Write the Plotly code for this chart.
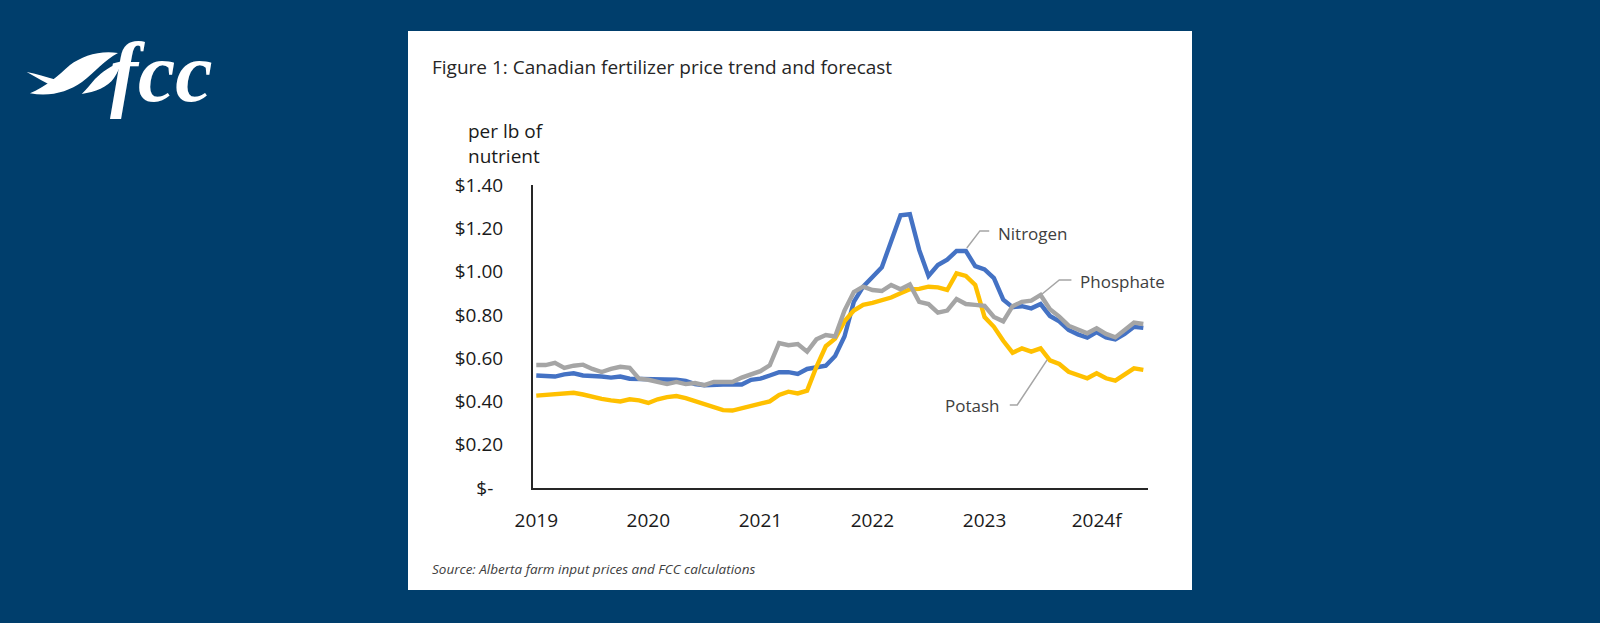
import plotly.graph_objects as go

# ---------------- data (monthly, Jan 2019 .. Jun 2024) ----------------
nitrogen = [0.52, 0.52, 0.515, 0.525, 0.53, 0.52, 0.52, 0.515, 0.51, 0.515, 0.505, 0.505,
            0.505, 0.505, 0.50, 0.50, 0.495, 0.48, 0.475, 0.478, 0.478, 0.478, 0.478, 0.50,
            0.505, 0.52, 0.535, 0.535, 0.527, 0.55, 0.56, 0.565, 0.61, 0.70, 0.86, 0.93,
            0.975, 1.02, 1.14, 1.26, 1.265, 1.10, 0.98, 1.03, 1.055, 1.095, 1.095, 1.025,
            1.01, 0.97, 0.87, 0.835, 0.84, 0.83, 0.85, 0.795, 0.77, 0.73, 0.71, 0.695,
            0.72, 0.696, 0.687, 0.712, 0.745, 0.74]
phosphate = [0.568, 0.568, 0.578, 0.555, 0.565, 0.57, 0.55, 0.536, 0.55, 0.56, 0.555, 0.505,
             0.50, 0.49, 0.48, 0.49, 0.48, 0.485, 0.475, 0.49, 0.49, 0.49, 0.51, 0.525,
             0.54, 0.567, 0.67, 0.66, 0.665, 0.63, 0.687, 0.707, 0.70, 0.82, 0.905, 0.93,
             0.915, 0.91, 0.938, 0.918, 0.94, 0.86, 0.85, 0.81, 0.82, 0.873, 0.85, 0.846,
             0.842, 0.79, 0.77, 0.84, 0.86, 0.866, 0.892, 0.826, 0.792, 0.75, 0.73, 0.715,
             0.738, 0.712, 0.696, 0.73, 0.764, 0.758]
potash = [0.427, 0.43, 0.432, 0.435, 0.44, 0.432, 0.42, 0.412, 0.405, 0.40, 0.41, 0.405,
          0.393, 0.41, 0.42, 0.425, 0.415, 0.40, 0.388, 0.37, 0.36, 0.358, 0.368, 0.378,
          0.385, 0.40, 0.43, 0.445, 0.437, 0.45, 0.56, 0.655, 0.69, 0.77, 0.82, 0.846,
          0.855, 0.865, 0.88, 0.90, 0.918, 0.92, 0.93, 0.927, 0.915, 0.992, 0.98, 0.938,
          0.79, 0.745, 0.68, 0.625, 0.645, 0.63, 0.645, 0.59, 0.573, 0.537, 0.522, 0.507,
          0.53, 0.507, 0.496, 0.522, 0.553, 0.546]
month_index = list(range(len(nitrogen)))

year_ticks = [0, 12, 24, 36, 48, 60]
year_labels = ["2019", "2020", "2021", "2022", "2023", "2024f"]
y_ticks = [0, 0.2, 0.4, 0.6, 0.8, 1.0, 1.2, 1.4]
y_labels = ["$-\u00a0\u00a0", "$0.20", "$0.40", "$0.60", "$0.80", "$1.00", "$1.20", "$1.40"]

series_names = ["Nitrogen", "Potash", "Phosphate"]
series_values = [nitrogen, potash, phosphate]
series_colors = ["#4472C4", "#FFC000", "#A5A5A5"]

# ---------------- layout helpers ----------------
W, H = 1600, 623
L, R, T, B = 533, 1148, 185, 488
NAVY = "#003e6c"
FONT = "Open Sans"


def pxx(x):
    return (x - L) / (R - L)


def pxy(y):
    return (B - y) / (B - T)


fig = go.Figure()
for name, vals, col in zip(series_names, series_values, series_colors):
    fig.add_trace(go.Scatter(x=month_index, y=vals, mode="lines", name=name,
                             line=dict(color=col, width=4.4), showlegend=False,
                             hoverinfo="skip"))

shapes = []
# white panel
shapes.append(dict(type="rect", xref="paper", yref="paper", layer="below",
                   x0=pxx(408), x1=pxx(1192), y0=pxy(590), y1=pxy(31),
                   fillcolor="white", line=dict(width=0)))

# leader lines (data coordinates)
leader_col = "#A5A5A5"
shapes.append(dict(type="path", xref="x", yref="y",
                   path="M 46.1,1.109 L 47.5,1.188 L 48.5,1.188",
                   line=dict(color=leader_col, width=1.5)))
shapes.append(dict(type="path", xref="x", yref="y",
                   path="M 53.9,0.887 L 56.0,0.961 L 57.3,0.961",
                   line=dict(color=leader_col, width=1.5)))
shapes.append(dict(type="path", xref="x", yref="y",
                   path="M 54.7,0.592 L 51.5,0.384 L 50.7,0.384",
                   line=dict(color=leader_col, width=1.5)))


# logo wings (pixel coords converted to paper)
def pth(cmds):
    out = []
    for tok in cmds:
        if isinstance(tok, str):
            out.append(tok)
        else:
            out.append(f"{pxx(tok[0]):.5f},{pxy(tok[1]):.5f}")
    return " ".join(out)


body = pth(["M", (30, 93.3), "C", (50, 97), (68, 92), (82, 82),
            "C", (95, 72), (105, 60), (118, 53),
            "C", (100, 50), (82, 56), (70, 65),
            "C", (58, 76), (45, 87), (30, 93.3), "Z"])
tail = pth(["M", (26.7, 72), "C", (36, 73.5), (46, 77), (57, 80),
            "L", (58, 89), "C", (46, 83), (36, 77), (26.7, 72), "Z"])
wing2 = pth(["M", (81.7, 94), "C", (95, 92), (108, 87), (114, 78),
             "C", (118, 72), (120, 67), (122, 62),
             "C", (112, 65), (102, 72), (95, 79),
             "C", (90, 85), (86, 90), (81.7, 94), "Z"])
for p in (body, tail, wing2):
    shapes.append(dict(type="path", xref="paper", yref="paper", path=p,
                       fillcolor="white", line=dict(width=0)))

ann = []
ann.append(dict(text="<b><i>fcc</i></b>", x=pxx(108), y=pxy(72), xref="paper", yref="paper",
                xanchor="left", yanchor="middle", showarrow=False,
                font=dict(family="Liberation Serif", size=84, color="white")))
ann.append(dict(text="Figure 1: Canadian fertilizer price trend and forecast",
                x=pxx(430), y=pxy(67), xref="paper", yref="paper",
                xanchor="left", yanchor="middle", showarrow=False,
                font=dict(family=FONT, size=19, color="#262626")))
ann.append(dict(text="per lb of", x=pxx(466), y=pxy(131), xref="paper", yref="paper",
                xanchor="left", yanchor="middle", showarrow=False,
                font=dict(family=FONT, size=19, color="#1a1a1a")))
ann.append(dict(text="nutrient", x=pxx(466), y=pxy(156), xref="paper", yref="paper",
                xanchor="left", yanchor="middle", showarrow=False,
                font=dict(family=FONT, size=19, color="#1a1a1a")))
ann.append(dict(text="<i>Source: Alberta farm input prices and FCC calculations</i>",
                x=pxx(430), y=pxy(569), xref="paper", yref="paper",
                xanchor="left", yanchor="middle", showarrow=False,
                font=dict(family=FONT, size=13.5, color="#404040")))
# series labels
ann.append(dict(text="Nitrogen", x=49.2, y=1.178, xref="x", yref="y",
                xanchor="left", yanchor="middle", showarrow=False,
                font=dict(family=FONT, size=17, color="#404040")))
ann.append(dict(text="Phosphate", x=58.0, y=0.952, xref="x", yref="y",
                xanchor="left", yanchor="middle", showarrow=False,
                font=dict(family=FONT, size=17, color="#404040")))
ann.append(dict(text="Potash", x=49.9, y=0.379, xref="x", yref="y",
                xanchor="right", yanchor="middle", showarrow=False,
                font=dict(family=FONT, size=17, color="#404040")))

fig.update_layout(
    width=W, height=H, autosize=False,
    margin=dict(l=L, r=W - R, t=T, b=H - B, pad=0),
    paper_bgcolor=NAVY, plot_bgcolor="rgba(0,0,0,0)",
    shapes=shapes, annotations=ann,
    xaxis=dict(range=[-0.35, 65.5], tickvals=year_ticks, ticktext=year_labels,
               showgrid=False, zeroline=False, showline=True, linecolor="#262626",
               linewidth=2, ticks="", ticklabelstandoff=14,
               tickfont=dict(family=FONT, size=19, color="#1a1a1a")),
    yaxis=dict(range=[0, 1.4], tickvals=y_ticks, ticktext=y_labels,
               showgrid=False, zeroline=False, showline=True, linecolor="#262626",
               linewidth=2, ticks="", ticklabelstandoff=24,
               tickfont=dict(family=FONT, size=19, color="#1a1a1a")),
)

fig.write_html("out.html",
               config={"displayModeBar": False},
               post_script="document.body.style.margin='0';"
                           "document.body.style.padding='0';"
                           "document.body.style.overflow='hidden';"
                           f"document.body.style.background='{NAVY}';")
